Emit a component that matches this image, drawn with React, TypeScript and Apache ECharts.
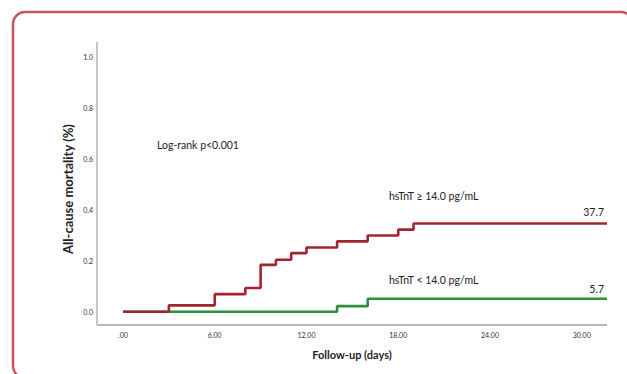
import React, { useEffect, useRef } from "react";
import * as echarts from "echarts";

const highTimes = [0, 3, 6, 8, 9, 10, 11, 12, 14, 16, 18, 19, 31.65];
const highValues = [0, 0.025, 0.069, 0.093, 0.184, 0.204, 0.23, 0.252, 0.276, 0.299, 0.322, 0.346, 0.346];
const lowTimes = [0, 14, 16, 31.65];
const lowValues = [0, 0.022, 0.051, 0.051];
const xTicks = [0, 6, 12, 18, 24, 30];
const yTicks = [0, 0.2, 0.4, 0.6, 0.8, 1.0];
const xMin = -1.7;
const xMax = 31.65;
const yMin = -0.052;
const yMax = 1.058;
const highLabel = "hsTnT \u2265 14.0 pg/mL";
const lowLabel = "hsTnT < 14.0 pg/mL";
const highEnd = "37.7";
const lowEnd = "5.7";
const pText = "Log-rank p<0.001";
const xTitle = "Follow-up (days)";
const yTitle = "All-cause mortality (%)";

const FONT = "Lato, 'Open Sans', sans-serif";

export default function App() {
  const ref = useRef<HTMLDivElement>(null);
  useEffect(() => {
    if (!ref.current) return;
    const chart = echarts.init(ref.current, null, { renderer: "svg" });
    const fmtX = (v: number) => (v === 0 ? ".00" : v.toFixed(2));
    const axisColor = "#b8b8b8";
    chart.setOption({
      animation: false,
      backgroundColor: "#ffffff",
      textStyle: { fontFamily: FONT },
      grid: { left: 97, right: 20, top: 42, bottom: 49 },
      xAxis: {
        type: "value",
        min: xMin,
        max: xMax,
        splitLine: { show: false },
        axisTick: { show: false },
        axisLine: { show: false },
        axisLabel: {
          customValues: xTicks,
          formatter: (v: number) => fmtX(v),
          fontSize: 7,
          color: "#333333",
          margin: 6,
          fontFamily: FONT,
        },
        name: xTitle,
        nameLocation: "middle",
        nameGap: 24,
        nameTextStyle: { fontSize: 11, fontWeight: "bold", color: "#222", fontFamily: FONT },
      },
      yAxis: {
        type: "value",
        min: yMin,
        max: yMax,
        splitLine: { show: false },
        axisTick: { show: false },
        axisLine: { show: false },
        axisLabel: {
          customValues: yTicks,
          formatter: (v: number) => v.toFixed(1),
          fontSize: 7,
          color: "#333333",
          margin: 4,
          fontFamily: FONT,
        },
      },
      series: [
        {
          type: "line",
          symbol: "none",
          clip: false,
          silent: true,
          data: [
            [xMin, yMax],
            [xMin, yMin],
          ],
          lineStyle: { color: axisColor, width: 1.6 },
          z: 10,
        },
        {
          type: "line",
          symbol: "none",
          clip: false,
          silent: true,
          data: [
            [xMin, yMin],
            [xMax, yMin],
          ],
          lineStyle: { color: axisColor, width: 2 },
          z: 10,
        },
        {
          type: "line",
          step: "end",
          symbol: "none",
          clip: false,
          data: lowTimes.map((t, i) => [t, lowValues[i]]),
          lineStyle: { color: "#2f8f3d", width: 2.6 },
          z: 2,
        },
        {
          type: "line",
          step: "end",
          symbol: "none",
          data: highTimes.map((t, i) => [t, highValues[i]]),
          lineStyle: { color: "#a3242a", width: 2.6 },
          z: 3,
        },
      ],
      graphic: [
        {
          type: "rect",
          shape: { x: 13, y: 12, width: 620, height: 366, r: 12 },
          style: { fill: "none", stroke: "#c9525b", lineWidth: 2.5 },
          silent: true,
        },
        {
          type: "text",
          x: 68,
          y: 189,
          rotation: Math.PI / 2,
          style: {
            text: yTitle,
            fill: "#222",
            font: `bold 13px ${FONT}`,
            align: "center",
            verticalAlign: "middle",
          },
        },
        {
          type: "text",
          x: 157,
          y: 145,
          style: { text: pText, fill: "#222", font: `10.5px ${FONT}`, verticalAlign: "middle" },
        },
        {
          type: "text",
          x: 389,
          y: 196,
          style: { text: highLabel, fill: "#222", font: `10.5px ${FONT}`, verticalAlign: "middle" },
        },
        {
          type: "text",
          x: 604,
          y: 212,
          style: { text: highEnd, fill: "#222", font: `10.5px ${FONT}`, align: "right", verticalAlign: "middle" },
        },
        {
          type: "text",
          x: 389,
          y: 280,
          style: { text: lowLabel, fill: "#222", font: `10.5px ${FONT}`, verticalAlign: "middle" },
        },
        {
          type: "text",
          x: 604,
          y: 289,
          style: { text: lowEnd, fill: "#222", font: `10.5px ${FONT}`, align: "right", verticalAlign: "middle" },
        },
      ],
    });
    return () => chart.dispose();
  }, []);
  return (
    <div
      ref={ref}
      style={{ position: "fixed", left: 0, top: 0, width: 627, height: 374, background: "#fff" }}
    />
  );
}
